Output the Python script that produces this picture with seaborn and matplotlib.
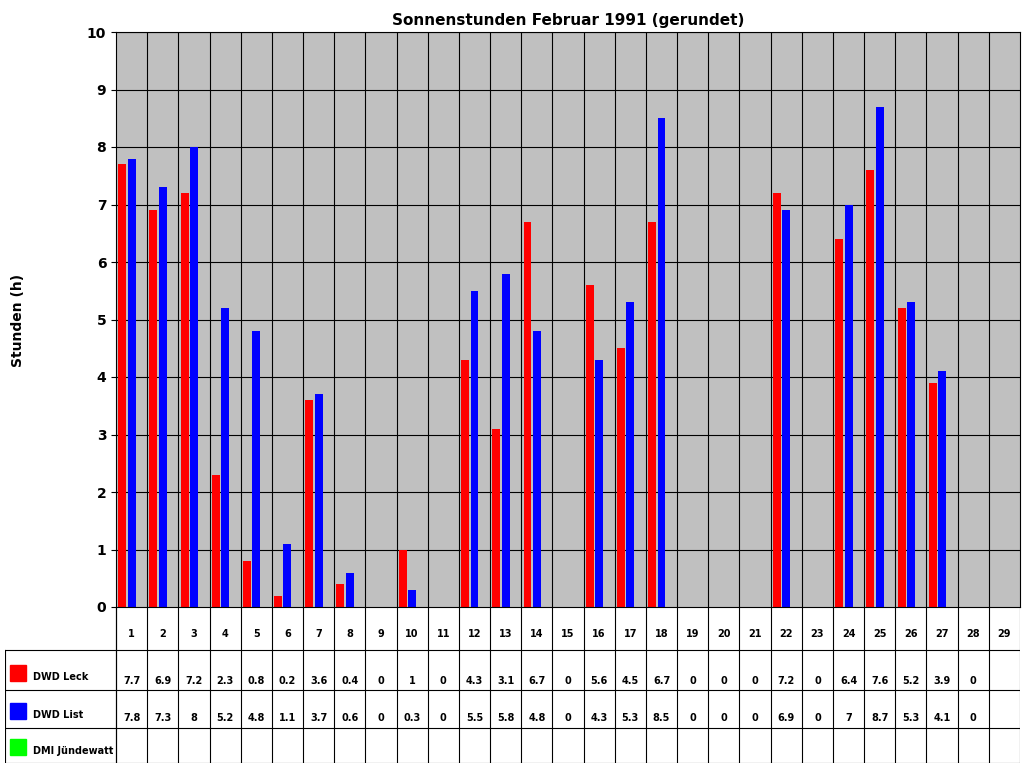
import matplotlib
matplotlib.use("Agg")
import matplotlib.pyplot as plt
import seaborn as sns
import pandas as pd
import numpy as np
from matplotlib.patches import Rectangle
from matplotlib.lines import Line2D

days = [str(d) for d in range(1, 30)]
leck = [7.7,6.9,7.2,2.3,0.8,0.2,3.6,0.4,0,1,0,4.3,3.1,6.7,0,5.6,4.5,6.7,0,0,0,7.2,0,6.4,7.6,5.2,3.9,0,None]
lst = [7.8,7.3,8,5.2,4.8,1.1,3.7,0.6,0,0.3,0,5.5,5.8,4.8,0,4.3,5.3,8.5,0,0,0,6.9,0,7,8.7,5.3,4.1,0,None]
juende = [None]*29
series = ["DWD Leck", "DWD List", "DMI Jündewatt"]
colors = ["#FF0000", "#0000FF", "#00FF00"]

rows = []
for s, vals in zip(series, [leck, lst, juende]):
    for d, v in zip(days, vals):
        rows.append({"Tag": d, "Station": s, "Wert": np.nan if v is None else v})
df = pd.DataFrame(rows)

W, H = 1024, 768
fig = plt.figure(figsize=(W/100, H/100), dpi=100)
L, R, T, B = 116, 1020, 32, 607
ax = fig.add_axes([L/W, 1-B/H, (R-L)/W, (B-T)/H])
sns.barplot(data=df, x="Tag", y="Wert", hue="Station", palette=colors, order=days,
            hue_order=series, width=0.9, gap=0.15, ax=ax, legend=False, saturation=1)
ax.set_facecolor("#C0C0C0")
ax.set_xlim(-0.5, 28.5)
ax.set_ylim(0, 10)
ax.set_yticks(range(11))
ax.set_yticklabels([str(i) for i in range(11)], fontweight="bold", fontsize=10)
ax.set_xticks([])
ax.set_xlabel("")
ax.set_ylabel("")
ax.grid(False)
for y in range(1, 11):
    ax.axhline(y, color="black", lw=0.8, zorder=0)
for x in np.arange(0.5, 28.5, 1):
    ax.axvline(x, color="black", lw=0.8, zorder=0)
for sp in ax.spines.values():
    sp.set_color("black"); sp.set_linewidth(0.8)

fig.text(568/W, 1-20/H, "Sonnenstunden Februar 1991 (gerundet)", ha="center", va="center",
         fontweight="bold", fontsize=11)
fig.text(18/W, 1-320/H, "Stunden (h)", rotation=90, ha="center", va="center",
         fontweight="bold", fontsize=10)

# table
tax = fig.add_axes([5/W, 1-763/H, (R-5)/W, (763-B)/H])
tax.set_xlim(5, R); tax.set_ylim(763, B)
tax.axis("off")
lk = dict(color="black", lw=0.8)
tax.add_line(Line2D([L, L], [B, 763], **lk))
tax.add_line(Line2D([R, R], [B, 763], **lk))
tax.add_line(Line2D([5, 5], [650, 763], **lk))
for y in [650, 690, 728, 763]:
    tax.add_line(Line2D([5, R], [y, y], **lk))
cw = (R-L)/29
for i in range(29):
    x0 = L + i*cw
    tax.add_line(Line2D([x0, x0], [B, 763], **lk))
    xc = x0 + cw/2
    tax.text(xc, 634, days[i], ha="center", va="center", fontsize=7, fontweight="bold")
    for vals, yy in [(leck, 681), (lst, 718)]:
        v = vals[i]
        if v is not None:
            tax.text(xc, yy, f"{v:g}", ha="center", va="center", fontsize=7, fontweight="bold")
for s, c, yc in zip(series, colors, [673, 711, 747]):
    tax.add_patch(Rectangle((10, yc-8), 16, 16, color=c))
    tax.text(33, yc+9, s, ha="left", va="bottom", fontsize=7, fontweight="bold")

fig.savefig("out.png", dpi=100, facecolor="white")
